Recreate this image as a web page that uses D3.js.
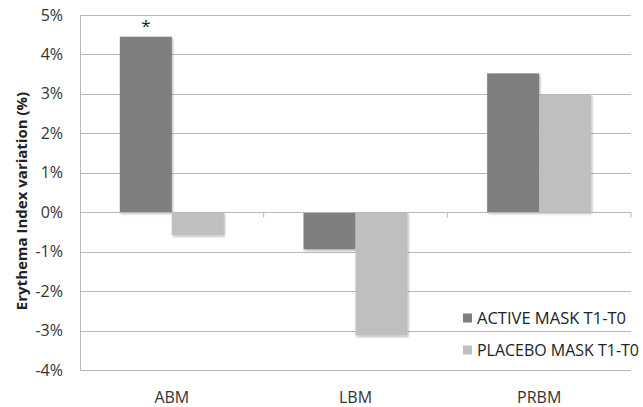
<!DOCTYPE html>
<html><head><meta charset="utf-8">
<script src="https://cdn.jsdelivr.net/npm/d3@7/dist/d3.min.js"></script>
<style>body{margin:0;background:#fff}svg{display:block}text{font-family:"Open Sans",Carlito,"Liberation Sans",sans-serif}</style>
</head><body><svg id="c" width="643" height="407"></svg>
<script>
const categories = ["ABM", "LBM", "PRBM"];
const seriesNames = ["ACTIVE MASK T1-T0", "PLACEBO MASK T1-T0"];
const activeValues = [4.45, -0.94, 3.52];
const placeboValues = [-0.58, -3.12, 2.99];
const yTicks = [-4, -3, -2, -1, 0, 1, 2, 3, 4, 5];
const significance = ["*", "", ""];
const colors = ["#7f7f7f", "#bfbfbf"];

const svg = d3.select("#c");
const L = 80, R = 631, T = 15, B = 370;
const x = d3.scaleBand().domain(categories).range([L, R]).paddingInner(0).paddingOuter(0);
const x1 = d3.scaleBand().domain([0, 1]).range([0, x.bandwidth()]).paddingOuter(0.766).paddingInner(0);
const y = d3.scaleLinear().domain([-4, 5]).range([B, T]);

const defs = svg.append("defs");
const f = defs.append("filter").attr("id", "sh").attr("x", "-20%").attr("y", "-20%").attr("width", "140%").attr("height", "140%");
f.append("feDropShadow").attr("dx", 1).attr("dy", 1.5).attr("stdDeviation", 1.2).attr("flood-color", "#000").attr("flood-opacity", 0.3);

// gridlines
svg.append("g").selectAll("line").data(yTicks).join("line")
  .attr("x1", L).attr("x2", R).attr("y1", d => Math.round(y(d)) + 0.5).attr("y2", d => Math.round(y(d)) + 0.5)
  .attr("stroke", "#b8b8b8").attr("stroke-width", 1);
// left axis line
svg.append("line").attr("x1", L + 0.5).attr("x2", L + 0.5).attr("y1", y(5)).attr("y2", y(-4))
  .attr("stroke", "#b8b8b8");

// y tick labels
svg.append("g").selectAll("text").data(yTicks).join("text")
  .attr("x", 63).attr("y", d => y(d)).attr("dy", "0.35em").attr("text-anchor", "end")
  .attr("font-size", 16).attr("fill", "#333").text(d => d + "%");

// bars
const data = categories.map((c, i) => ({c, v: [activeValues[i], placeboValues[i]]}));
const g = svg.append("g");
data.forEach(d => {
  d.v.forEach((v, k) => {
    g.append("rect")
      .attr("x", x(d.c) + x1(k)).attr("width", x1.bandwidth())
      .attr("y", y(Math.max(0, v))).attr("height", Math.abs(y(v) - y(0)))
      .attr("fill", colors[k]).attr("filter", "url(#sh)");
  });
});

// zero axis with ticks
const zy = Math.round(y(0)) + 0.5;
svg.append("line").attr("x1", L).attr("x2", R).attr("y1", zy).attr("y2", zy).attr("stroke", "#b8b8b8");
svg.append("g").selectAll("line").data(categories).join("line")
  .attr("x1", d => x(d) + x.bandwidth()).attr("x2", d => x(d) + x.bandwidth())
  .attr("y1", zy).attr("y2", zy + 5).attr("stroke", "#b8b8b8");

// significance
svg.append("g").selectAll("text").data(categories).join("text")
  .attr("x", d => x(d) + x1(0) + x1.bandwidth() / 2)
  .attr("y", (d, i) => y(activeValues[i]) - 5)
  .attr("text-anchor", "middle").attr("font-size", 17).attr("fill", "#222")
  .text((d, i) => significance[i]);

// x labels
svg.append("g").selectAll("text").data(categories).join("text")
  .attr("x", d => x(d) + x.bandwidth() / 2).attr("y", 397).attr("dy", "0.35em")
  .attr("text-anchor", "middle").attr("font-size", 16).attr("fill", "#333").text(d => d);

// y title
svg.append("text").attr("transform", "translate(22,201) rotate(-90)").attr("dy", "0.35em")
  .attr("text-anchor", "middle").attr("font-size", 15).attr("font-weight", "bold").attr("fill", "#222")
  .text("Erythema Index variation (%)");

// legend
const lg = svg.append("g");
const legendWidths = [149, 162];
seriesNames.forEach((s, k) => {
  const ly = 318 + k * 32;
  lg.append("rect").attr("x", 463).attr("y", ly - 4.5).attr("width", 9).attr("height", 9).attr("fill", colors[k]);
  lg.append("text").attr("x", 477).attr("y", ly).attr("dy", "0.35em").attr("font-size", 16.5).attr("fill", "#222")
    .attr("textLength", legendWidths[k]).attr("lengthAdjust", "spacingAndGlyphs").text(s);
});
</script></body></html>
